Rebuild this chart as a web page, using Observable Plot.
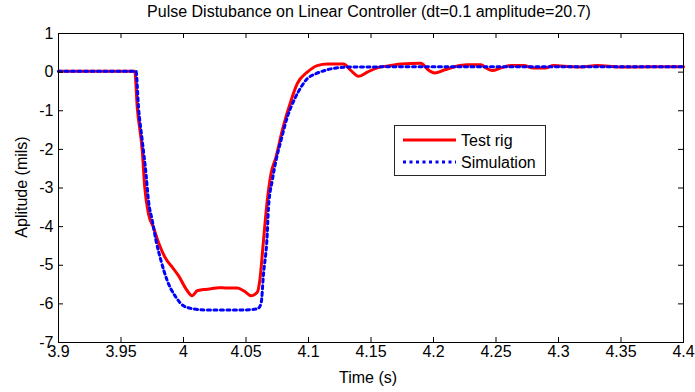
<!DOCTYPE html>
<html><head><meta charset="utf-8">
<script src="https://cdn.jsdelivr.net/npm/d3@7"></script>
<script src="https://cdn.jsdelivr.net/npm/@observablehq/plot@0.6"></script>
<style>
body{margin:0;background:#fff;font-family:"Liberation Sans",Arial,sans-serif}
#wrap{position:relative;width:695px;height:392px;overflow:hidden}
.t{position:absolute;font-size:16px;line-height:16px;color:#000;white-space:nowrap;transform:translate(-50%,-50%)}
#legend{position:absolute;left:394px;top:125px;width:152px;height:51px;box-sizing:border-box;border:1px solid #262626;background:#fff}
</style></head><body>
<div id="wrap"></div>
<script>
const titleText = "Pulse Distubance on Linear Controller (dt=0.1 amplitude=20.7)";
const xLabel = "Time (s)";
const yLabel = "Aplitude (mils)";
const seriesNames = ["Test rig", "Simulation"];
const xTicks = [3.9, 3.95, 4, 4.05, 4.1, 4.15, 4.2, 4.25, 4.3, 4.35, 4.4];
const yTicks = [1, 0, -1, -2, -3, -4, -5, -6, -7];

const testT = [3.9, 3.93, 3.961, 3.963, 3.967, 3.969, 3.972, 3.976, 3.980, 3.986, 3.991, 3.996, 4.002, 4.007, 4.011, 4.016, 4.022, 4.028, 4.035, 4.043, 4.049, 4.054, 4.059, 4.061, 4.064, 4.067, 4.070, 4.074, 4.079, 4.086, 4.091, 4.099, 4.107, 4.115, 4.128, 4.134, 4.140, 4.147, 4.155, 4.166, 4.174, 4.190, 4.195, 4.201, 4.209, 4.217, 4.227, 4.238, 4.242, 4.247, 4.254, 4.262, 4.272, 4.280, 4.290, 4.296, 4.310, 4.318, 4.331, 4.349, 4.375, 4.4];
const testY = [0.02, 0.02, 0.02, -0.91, -2.03, -2.98, -3.67, -4.02, -4.41, -4.84, -5.05, -5.27, -5.61, -5.79, -5.66, -5.63, -5.61, -5.58, -5.59, -5.59, -5.68, -5.79, -5.70, -5.40, -4.36, -3.33, -2.63, -2.20, -1.51, -0.74, -0.30, 0.0, 0.17, 0.21, 0.21, 0.04, -0.11, 0.0, 0.11, 0.17, 0.21, 0.23, 0.08, -0.02, 0.06, 0.14, 0.19, 0.19, 0.11, 0.04, 0.11, 0.17, 0.17, 0.11, 0.11, 0.17, 0.14, 0.13, 0.17, 0.13, 0.14, 0.14];

const simT = [3.9, 3.93, 3.962, 3.964, 3.967, 3.970, 3.972, 3.975, 3.978, 3.982, 3.987, 3.994, 4.0, 4.008, 4.019, 4.045, 4.059, 4.062, 4.064, 4.067, 4.068, 4.071, 4.074, 4.078, 4.083, 4.089, 4.094, 4.099, 4.106, 4.115, 4.131, 4.2, 4.3, 4.4];
const simY = [0.02, 0.02, 0.02, -0.91, -1.77, -2.63, -3.33, -3.84, -4.36, -4.88, -5.40, -5.83, -6.05, -6.13, -6.16, -6.16, -6.13, -6.0, -5.23, -4.19, -3.50, -2.81, -2.29, -1.77, -1.17, -0.69, -0.39, -0.17, -0.04, 0.06, 0.13, 0.14, 0.14, 0.14];

const testData = testT.map((t, i) => ({t, y: testY[i]}));
const simData = simT.map((t, i) => ({t, y: simY[i]}));

const W = 695, H = 392, mL = 58, mR = 12, mT = 33, mB = 50;
const pw = W - mL - mR, ph = H - mT - mB, tk = 5;

const plot = Plot.plot({
  width: W, height: H,
  marginLeft: mL, marginRight: mR, marginTop: mT, marginBottom: mB,
  style: {fontFamily: "'Liberation Sans', Arial, sans-serif", fontSize: "16px", color: "#000", background: "#fff"},
  x: {domain: [3.9, 4.4]},
  y: {domain: [-7, 1]},
  marks: [
    Plot.line(testData, {x: "t", y: "y", stroke: "#ff0000", strokeWidth: 3, curve: "monotone-x"}),
    Plot.line(simData, {x: "t", y: "y", stroke: "#0000ff", strokeWidth: 3, strokeDasharray: "3,3.5", curve: "monotone-x"}),
    Plot.tickX(xTicks, {x: d => d, insetTop: ph - tk, stroke: "#000"}),
    Plot.tickX(xTicks, {x: d => d, insetBottom: ph - tk, stroke: "#000"}),
    Plot.tickY(yTicks, {y: d => d, insetRight: pw - tk, stroke: "#000"}),
    Plot.tickY(yTicks, {y: d => d, insetLeft: pw - tk, stroke: "#000"}),
    Plot.frame({stroke: "#000"}),
    Plot.axisX({ticks: xTicks, anchor: "bottom", tickSize: 0, tickPadding: 3, label: null, tickFormat: d => String(d)}),
    Plot.axisY({ticks: yTicks, anchor: "left", tickSize: 0, tickPadding: 5, label: null, tickFormat: d => String(d)})
  ]
});

const wrap = document.getElementById("wrap");
wrap.appendChild(plot);

function addText(txt, x, y, rot) {
  const d = document.createElement("div");
  d.className = "t";
  d.textContent = txt;
  d.style.left = x + "px";
  d.style.top = y + "px";
  if (rot) d.style.transform = "translate(-50%,-50%) rotate(-90deg)";
  wrap.appendChild(d);
}
addText(titleText, 369, 12);
addText(xLabel, 368, 378);
addText(yLabel, 22, 187, true);

const lg = document.createElement("div");
lg.id = "legend";
lg.innerHTML = `<svg width="150" height="49" style="display:block;font-family:'Liberation Sans',Arial,sans-serif;font-size:16px">
<line x1="8" x2="61" y1="14" y2="14" stroke="#ff0000" stroke-width="3"/>
<line x1="8" x2="61" y1="36" y2="36" stroke="#0000ff" stroke-width="3" stroke-dasharray="3,3.5"/>
<text x="66" y="14" dy="0.35em">${seriesNames[0]}</text>
<text x="66" y="36" dy="0.35em">${seriesNames[1]}</text>
</svg>`;
wrap.appendChild(lg);
</script>
</body></html>
